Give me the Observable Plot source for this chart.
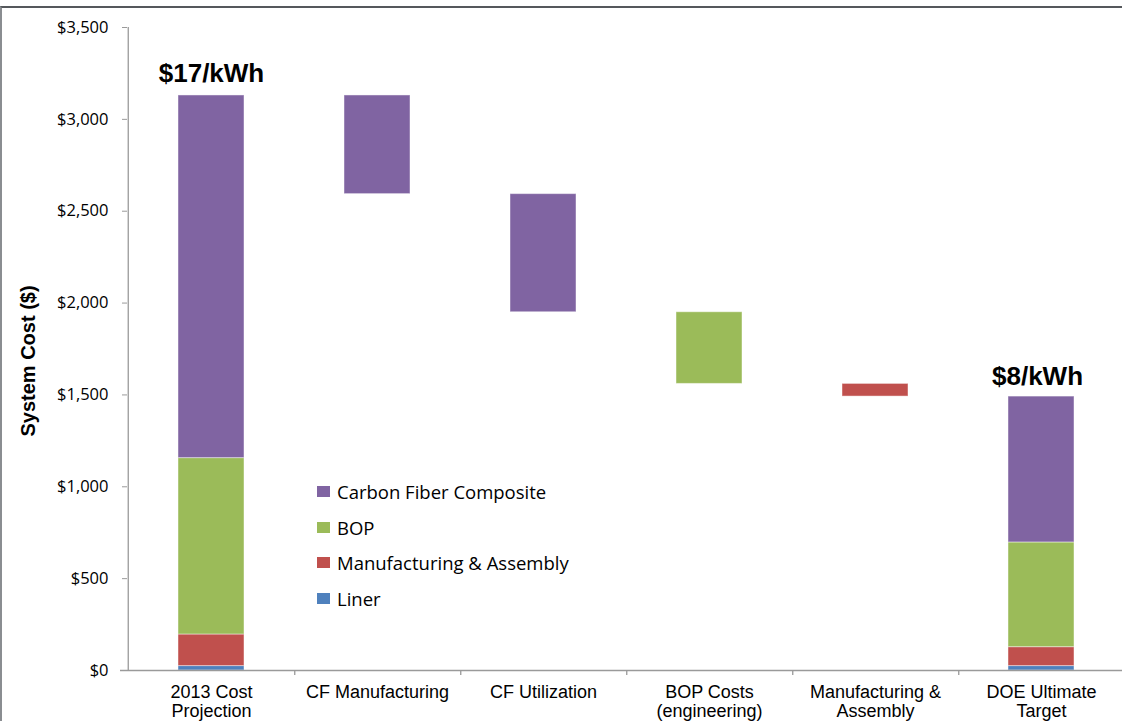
<!DOCTYPE html>
<html>
<head>
<meta charset="utf-8">
<script src="https://cdn.jsdelivr.net/npm/d3@7"></script>
<script src="https://cdn.jsdelivr.net/npm/@observablehq/plot@0.6"></script>
<style>
  html, body { margin: 0; padding: 0; background: #fff; }
  #wrap { position: relative; width: 1122px; height: 721px; overflow: hidden; }
  #wrap svg { position: absolute; left: 0; top: 0; }
  #frame { position: absolute; left: 0; top: 6px; width: 1130px; height: 730px;
           border-top: 2px solid #55585c; border-left: 2px solid #8a8d91; pointer-events: none; }
  #legend { position: absolute; left: 317px; top: 474px; font-family: "Open Sans", sans-serif; font-size: 18.5px; color: #000; }
  #legend .row { height: 35.5px; display: flex; align-items: center; }
  #legend .sw { width: 13px; height: 11px; margin-right: 7px; }
  #ytitle { position: absolute; left: 28px; top: 361px; transform: translate(-50%, -50%) rotate(-90deg);
            font-family: "Liberation Sans", Arial, sans-serif; font-weight: bold; font-size: 20px; white-space: nowrap; color: #000; }
  svg [aria-label="y-axis tick label"] { font-family: "Open Sans", sans-serif; font-size: 16.5px; fill: #000; }
  svg [aria-label="y-axis tick"] { stroke: #9a9a9a; }
</style>
</head>
<body>
<div id="wrap"></div>
<script>
// ---- data ----
const categories = ["2013 Cost Projection", "CF Manufacturing", "CF Utilization",
                    "BOP Costs (engineering)", "Manufacturing & Assembly", "DOE Ultimate Target"];
const categoryLabels = ["2013 Cost\nProjection", "CF Manufacturing", "CF Utilization",
                        "BOP Costs\n(engineering)", "Manufacturing &\nAssembly", "DOE Ultimate\nTarget"];
const components = ["Liner", "Manufacturing & Assembly", "BOP", "Carbon Fiber Composite"];
const componentColors = ["#4F81BD", "#C0504D", "#9BBB59", "#8064A2"];
const legendOrder = ["Carbon Fiber Composite", "BOP", "Manufacturing & Assembly", "Liner"];
const cost2013 = [24, 172, 960, 1974];          // Liner, M&A, BOP, CF
const costTarget = [24, 103, 570, 794];         // Liner, M&A, BOP, CF
const stepCategories = ["CF Manufacturing", "CF Utilization", "BOP Costs (engineering)", "Manufacturing & Assembly"];
const stepComponents = ["Carbon Fiber Composite", "Carbon Fiber Composite", "BOP", "Manufacturing & Assembly"];
const stepChanges = [-537, -643, -390, -69];
const annotations = [
  {cat: "2013 Cost Projection", label: "$17/kWh"},
  {cat: "DOE Ultimate Target", label: "$8/kWh"}
];
const yTicks = [0, 500, 1000, 1500, 2000, 2500, 3000, 3500];
const yTitle = "System Cost ($)";

// ---- build rows ----
const rows = [];
function stack(cat, vals) {
  let acc = 0;
  vals.forEach((v, i) => { rows.push({cat, comp: components[i], y1: acc, y2: acc + v}); acc += v; });
  return acc;
}
const total2013 = stack(categories[0], cost2013);
let level = total2013;
stepCategories.forEach((c, i) => {
  const next = level + stepChanges[i];
  rows.push({cat: c, comp: stepComponents[i], y1: next, y2: level});
  level = next;
});
const totalTarget = stack(categories[5], costTarget);
const totals = {[categories[0]]: total2013, [categories[5]]: totalTarget};
annotations.forEach(a => a.total = totals[a.cat]);

const labelOf = Object.fromEntries(categories.map((c, i) => [c, categoryLabels[i]]));
const step = (1126 - 127) / categories.length;

const chart = Plot.plot({
  width: 1122,
  height: 721,
  marginLeft: 127,
  marginRight: 0,
  marginTop: 27,
  marginBottom: 51,
  style: {background: "transparent", fontFamily: "'Liberation Sans', Arial, sans-serif"},
  x: {domain: categories, range: [127, 1126], paddingInner: 0.6, paddingOuter: 0.3, axis: null},
  y: {domain: [0, 3500], axis: null},
  color: {domain: components, range: componentColors},
  marks: [
    Plot.barY(rows, {x: "cat", y1: "y1", y2: "y2", fill: "comp", stroke: "#ffffff", strokeOpacity: 0.45, strokeWidth: 1}),
    // y axis line
    Plot.ruleX([categories[0]], {x: d => d, dx: -step / 2, y1: 0, y2: 3500, stroke: "#9a9a9a", strokeWidth: 1.3}),
    Plot.axisY(yTicks, {tickSize: 5, tickPadding: 14, tickFormat: d => "$" + d3.format(",")(d)}),
    // x axis line
    Plot.ruleY([0], {stroke: "#9a9a9a", strokeWidth: 1.5, insetLeft: -7, insetRight: -5}),
    // x boundary ticks
    Plot.ruleX(categories, {x: d => d, dx: step / 2, y1: 0, y2: -27, stroke: "#9a9a9a", strokeWidth: 1.3}),
    // x category labels
    Plot.text(categories, {x: d => d, text: d => labelOf[d], frameAnchor: "bottom", lineAnchor: "top",
      dy: 13.5, fontSize: 18, lineHeight: 1.06, fill: "#000"}),
    // annotations
    Plot.text(annotations.slice(0, 1), {x: "cat", y: "total", text: "label", dy: -13, lineAnchor: "bottom",
      fontSize: 26, fontWeight: "bold", fill: "#000"}),
    Plot.text(annotations.slice(1), {x: "cat", y: "total", text: "label", dx: -4, dy: -12, lineAnchor: "bottom",
      fontSize: 26, fontWeight: "bold", fill: "#000"})
  ]
});

const wrap = document.getElementById("wrap");
wrap.appendChild(chart);

const yt = document.createElement("div");
yt.id = "ytitle";
yt.textContent = yTitle;
wrap.appendChild(yt);

const legend = document.createElement("div");
legend.id = "legend";
const colorOf = Object.fromEntries(components.map((c, i) => [c, componentColors[i]]));
legendOrder.forEach(c => {
  const r = document.createElement("div");
  r.className = "row";
  const sw = document.createElement("span");
  sw.className = "sw";
  sw.style.background = colorOf[c];
  const t = document.createElement("span");
  t.textContent = c;
  r.appendChild(sw); r.appendChild(t);
  legend.appendChild(r);
});
wrap.appendChild(legend);

const frame = document.createElement("div");
frame.id = "frame";
wrap.appendChild(frame);
</script>
</body>
</html>
